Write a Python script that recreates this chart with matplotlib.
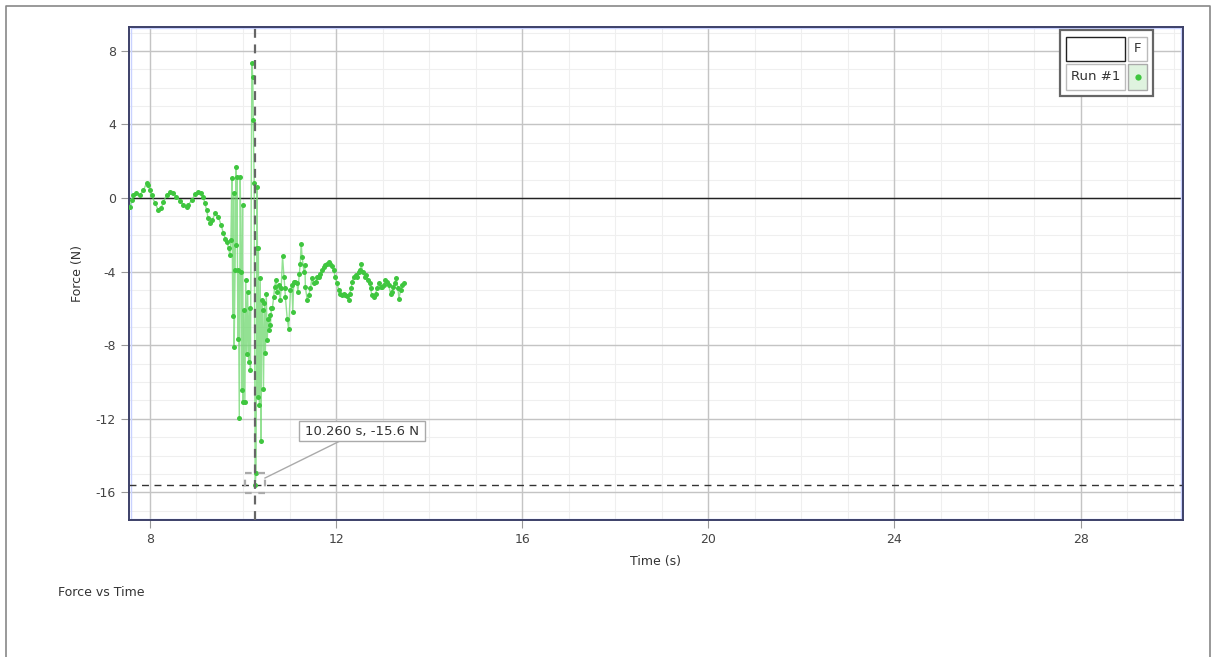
import matplotlib
matplotlib.use("Agg")
import matplotlib.pyplot as plt
from matplotlib.patches import Rectangle
from matplotlib.lines import Line2D

plt.rcParams["axes.unicode_minus"] = False

# ---------------- data ----------------
time_s = [
    7.57, 7.61, 7.64, 7.71, 7.78, 7.86, 7.93, 7.96, 8.00, 8.04, 8.11, 8.18, 8.24, 8.29,
    8.36, 8.43, 8.50, 8.57, 8.65, 8.72, 8.79, 8.82, 8.90, 8.97, 9.04, 9.10, 9.15, 9.18,
    9.22, 9.25, 9.29, 9.34, 9.40, 9.47, 9.53, 9.58, 9.62, 9.66, 9.69, 9.72,
    9.74, 9.76, 9.78, 9.80, 9.81, 9.83, 9.85, 9.86, 9.87, 9.89, 9.90, 9.92, 9.94, 9.96,
    9.97, 9.99, 10.00, 10.02, 10.04, 10.06, 10.08, 10.10, 10.12, 10.14, 10.16, 10.19,
    10.21, 10.22, 10.24, 10.26, 10.28, 10.30, 10.31, 10.32, 10.33, 10.35, 10.37, 10.39,
    10.40, 10.42, 10.44, 10.46, 10.48, 10.50, 10.52, 10.54, 10.55, 10.57, 10.59, 10.61,
    10.63, 10.66, 10.68, 10.71, 10.73, 10.77, 10.80, 10.82, 10.85, 10.88, 10.90, 10.91,
    10.95, 10.98, 11.02, 11.05, 11.07, 11.09, 11.12, 11.16, 11.18, 11.21, 11.23, 11.25,
    11.27, 11.31, 11.33, 11.34, 11.38, 11.41, 11.45, 11.48, 11.52, 11.56, 11.59, 11.63,
    11.66, 11.70, 11.74, 11.77, 11.81, 11.84, 11.88, 11.91, 11.95, 11.98, 12.02, 12.06,
    12.09, 12.13, 12.16, 12.20, 12.24, 12.27, 12.29, 12.33, 12.34, 12.38, 12.42, 12.45,
    12.49, 12.52, 12.54, 12.57, 12.62, 12.65, 12.69, 12.72, 12.74, 12.77, 12.81, 12.85,
    12.88, 12.92, 12.96, 12.99, 13.03, 13.06, 13.10, 13.13, 13.17, 13.20, 13.22, 13.26,
    13.29, 13.33, 13.35, 13.39, 13.42, 13.46,
]
force_n = [
    -0.47, -0.11, 0.16, 0.25, 0.16, 0.43, 0.83, 0.71, 0.43, 0.16, -0.29, -0.65, -0.56, -0.20,
    0.16, 0.34, 0.29, 0.07, -0.15, -0.38, -0.51, -0.38, -0.11, 0.22, 0.34, 0.25, 0.04, -0.29,
    -0.65, -1.11, -1.38, -1.20, -0.83, -1.02, -1.47, -1.92, -2.20, -2.38, -2.74, -3.10,
    -2.29, 1.07, -6.42, 0.25, -8.09, -3.92, 1.70, -2.56, 1.16, -7.64, -3.92, -11.94, 1.16, -4.00,
    -10.41, -0.38, -11.08, -6.10, -11.08, -4.43, -8.45, -5.10, -8.90, -6.00, -9.33, 7.33,
    6.57, 4.24, 0.83, -15.60, -14.95, 0.58, -2.74, -10.80, -2.74, -11.27, -4.37, -13.20,
    -5.55, -6.10, -10.36, -5.73, -8.42, -5.19, -7.73, -6.55, -7.18, -6.37, -6.91, -5.95,
    -6.00, -5.37, -4.83, -4.43, -5.10, -4.73, -5.55, -4.91, -3.16, -4.28, -4.91, -5.37,
    -6.55, -7.09, -5.01, -4.73, -6.19, -4.55, -4.55, -4.64, -5.10, -4.10, -3.56, -2.47,
    -3.19, -4.01, -3.65, -4.83, -5.55, -5.28, -4.91, -4.37, -4.64, -4.55, -4.28, -4.28,
    -4.10, -3.92, -3.74, -3.65, -3.56, -3.47, -3.56, -3.70, -3.92, -4.28, -4.64, -5.01,
    -5.19, -5.28, -5.19, -5.28, -5.33, -5.55, -5.19, -4.91, -4.55, -4.28, -4.19, -4.28,
    -4.01, -3.92, -3.61, -4.01, -4.28, -4.19, -4.46, -4.64, -4.91, -5.28, -5.37, -5.19,
    -4.91, -4.64, -4.83, -4.83, -4.73, -4.46, -4.55, -4.73, -5.19, -5.10, -4.83, -4.64,
    -4.37, -4.91, -5.46, -5.01, -4.73, -4.64,
]
x_ticks = [8, 12, 16, 20, 24, 28]
y_ticks = [-16, -12, -8, -4, 0, 4, 8]
cursor_t = 10.26
cursor_f = -15.6
annotation_text = "10.260 s, -15.6 N"
series_name = "Run #1"
column_name = "F"
title_text = "Force vs Time"
x_label = "Time (s)"
y_label = "Force (N)"

# ---------------- figure ----------------
W, H = 1219, 657
fig = plt.figure(figsize=(W / 100, H / 100), dpi=100)
fig.patch.set_facecolor("white")

def fx(px):
    return px / W

def fy(py):
    return 1 - py / H

L, R, T, B = 129, 1183, 27, 520
ax = fig.add_axes([fx(L), fy(B), fx(R) - fx(L), fy(T) - fy(B)])
ax.set_xlim(7.55, 30.2)
ax.set_ylim(-17.5, 9.3)

# grid
for v in range(8, 31):
    ax.axvline(v, color="#efefef", lw=0.8, zorder=0)
for v in range(-17, 10):
    ax.axhline(v, color="#efefef", lw=0.8, zorder=0)
for v in x_ticks:
    ax.axvline(v, color="#c4c4c4", lw=1.0, zorder=0.5)
for v in y_ticks:
    ax.axhline(v, color="#c4c4c4", lw=1.0, zorder=0.5)
ax.axhline(0, color="#222222", lw=1.0, zorder=1)

ax.set_xticks(x_ticks)
ax.set_yticks(y_ticks)
ax.tick_params(axis="both", colors="#999999", labelcolor="#444444", labelsize=9, length=6, width=0.8)
ax.set_xlabel(x_label, fontsize=9, color="#333333", labelpad=6)
ax.set_ylabel(y_label, fontsize=9, color="#333333", labelpad=8)
for s in ax.spines.values():
    s.set_color("#3c4068")
    s.set_linewidth(1.4)
ax.add_patch(Rectangle((0.0015, 0.003), 0.997, 0.994, transform=ax.transAxes, fill=False,
                       ec="#c9d2ff", lw=1.0, zorder=1.2))

# cursor lines
ax.axhline(cursor_f, color="#333333", lw=1.0, ls=(0, (5, 4)), zorder=2)
ax.axvline(cursor_t, color="#666666", lw=1.6, ls=(0, (4, 3)), zorder=4)

# data
ax.plot(time_s, force_n, color="#6fd86f", lw=1.0, alpha=0.75, zorder=3)
ax.plot(time_s, force_n, ls="none", marker="o", ms=3.6, mfc="#3fc63f", mec="none", zorder=3.5)

# cursor marker square (dashed)
fig.add_artist(Rectangle((fx(245), fy(493)), fx(265) - fx(245), fy(473) - fy(493),
                         transform=fig.transFigure, fill=False, ec="#aaaaaa", lw=1.6,
                         ls=(0, (3, 3)), zorder=5))
fig.add_artist(Line2D([fx(265), fx(340)], [fy(478), fy(441)], transform=fig.transFigure,
                      color="#aaaaaa", lw=1.0, zorder=5))
fig.add_artist(Rectangle((fx(299), fy(441)), fx(425) - fx(299), fy(421) - fy(441),
                         transform=fig.transFigure, fc="white", ec="#aaaaaa", lw=1.0, zorder=6))
fig.text(fx(362), fy(431.5), annotation_text, ha="center", va="center", fontsize=9.5,
         color="#333333", zorder=7)

# legend box
def frect(x0, y0, x1, y1, **kw):
    fig.add_artist(Rectangle((fx(x0), fy(y1)), fx(x1) - fx(x0), fy(y0) - fy(y1),
                             transform=fig.transFigure, **kw))

frect(1060, 30, 1153, 96, fc="white", ec="#666666", lw=1.6, zorder=8)
frect(1066, 37, 1125, 61, fc="white", ec="#222222", lw=1.0, zorder=9)
frect(1128, 37, 1147, 61, fc="white", ec="#bbbbbb", lw=1.0, zorder=9)
frect(1066, 64, 1125, 90, fc="white", ec="#bbbbbb", lw=1.0, zorder=9)
frect(1128, 64, 1147, 90, fc="#dff3df", ec="#aaaaaa", lw=1.0, zorder=9)
fig.text(fx(1137.5), fy(49), column_name, ha="center", va="center", fontsize=9.5,
         color="#333333", zorder=10)
fig.text(fx(1095.5), fy(77), series_name, ha="center", va="center", fontsize=9.5,
         color="#333333", zorder=10)
fig.add_artist(Line2D([fx(1137.5)], [fy(77)], transform=fig.transFigure, ls="none",
                      marker="o", ms=4.5, mfc="#3fc63f", mec="none", zorder=10))

# title and outer border
fig.text(fx(58), fy(592), title_text, ha="left", va="center", fontsize=9, color="#333333")
fig.add_artist(Line2D([fx(6), fx(6), fx(1210), fx(1210)], [fy(657), fy(6), fy(6), fy(657)],
                      transform=fig.transFigure, color="#888888", lw=1.2))

fig.savefig("out.png", dpi=100, facecolor="white")
